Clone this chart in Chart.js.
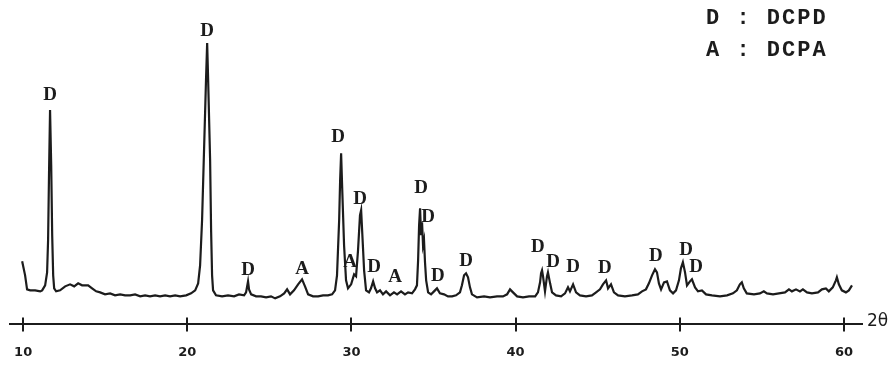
<!DOCTYPE html>
<html>
<head>
<meta charset="utf-8">
<script src="https://cdn.jsdelivr.net/npm/chart.js@4"></script>
<style>
  html, body { margin: 0; padding: 0; background: #fff; }
  #wrap { width: 894px; height: 365px; position: relative; }
</style>
</head>
<body>
<div id="wrap"><canvas id="xrd"></canvas></div>
<script>
// 2-theta (deg) and intensity (arb. units)
const twoTheta = [
  9.94, 10.12, 10.24, 10.43, 10.73, 11.04, 11.16, 11.34, 11.46, 11.52, 11.58, 11.64, 11.71, 11.77, 11.83, 11.89,
  12.01, 12.25, 12.56, 12.86, 13.11, 13.35, 13.59, 13.96, 14.20, 14.45, 14.69, 14.99, 15.30, 15.60, 15.91, 16.21,
  16.52, 16.82, 17.13, 17.43, 17.73, 18.04, 18.34, 18.65, 18.95, 19.26, 19.56, 19.93, 20.23, 20.48, 20.66, 20.78,
  20.90, 21.02, 21.14, 21.21, 21.27, 21.39, 21.45, 21.51, 21.57, 21.75, 22.12, 22.48, 22.85, 23.15, 23.46, 23.58,
  23.70, 23.76, 23.89, 24.19, 24.49, 24.80, 25.10, 25.35, 25.65, 25.90, 26.08, 26.26, 26.50, 26.75, 26.99, 27.17,
  27.36, 27.66, 27.97, 28.27, 28.57, 28.82, 29.00, 29.12, 29.25, 29.31, 29.37, 29.43, 29.55, 29.67, 29.79, 29.98,
  30.16, 30.28, 30.40, 30.52, 30.59, 30.65, 30.77, 30.89, 31.07, 31.19, 31.32, 31.44, 31.56, 31.74, 31.92, 32.11,
  32.35, 32.59, 32.78, 33.02, 33.26, 33.45, 33.69, 33.87, 33.99, 34.06, 34.12, 34.18, 34.24, 34.30, 34.36, 34.42,
  34.48, 34.55, 34.67, 34.85, 35.03, 35.21, 35.39, 35.64, 35.88, 36.13, 36.37, 36.61, 36.73, 36.86, 36.98, 37.10,
  37.22, 37.34, 37.65, 38.08, 38.44, 38.87, 39.23, 39.48, 39.66, 39.84, 40.09, 40.45, 40.82, 41.19, 41.36, 41.49,
  41.55, 41.61, 41.67, 41.79, 41.91, 41.97, 42.10, 42.22, 42.46, 42.77, 43.01, 43.19, 43.31, 43.50, 43.68, 43.92,
  44.29, 44.65, 44.90, 45.14, 45.32, 45.51, 45.63, 45.81, 45.99, 46.24, 46.66, 47.09, 47.45, 47.70, 47.94, 48.12,
  48.31, 48.49, 48.61, 48.73, 48.86, 49.04, 49.22, 49.40, 49.59, 49.77, 49.95, 50.07, 50.19, 50.32, 50.44, 50.62,
  50.74, 50.93, 51.11, 51.35, 51.60, 51.96, 52.45, 52.88, 53.24, 53.48, 53.66, 53.78, 53.90, 54.08, 54.52, 54.88,
  55.12, 55.31, 55.68, 56.04, 56.41, 56.65, 56.83, 57.08, 57.32, 57.50, 57.75, 58.05, 58.42, 58.66, 58.90, 59.08,
  59.32, 59.51, 59.57, 59.69, 59.87, 60.12, 60.30, 60.49
];
const intensity = [
  63, 49, 35, 34, 34, 33, 34, 39, 52, 84, 154, 214, 159, 89, 49, 36,
  33, 34, 38, 40, 38, 41, 39, 39, 36, 33, 32, 30, 31, 29, 30, 29,
  29, 30, 28, 29, 28, 29, 28, 29, 28, 29, 28, 29, 31, 34, 41, 59,
  104, 174, 244, 281, 244, 164, 94, 49, 34, 29, 28, 29, 28, 30, 29, 32,
  43, 35, 30, 28, 28, 27, 28, 26, 28, 31, 35, 30, 34, 40, 45, 38,
  30, 28, 28, 29, 29, 30, 34, 49, 104, 144, 171, 139, 79, 44, 36, 40,
  50, 48, 74, 109, 114, 94, 54, 34, 32, 36, 43, 36, 32, 34, 30, 33,
  29, 32, 30, 33, 30, 32, 31, 35, 39, 64, 99, 116, 89, 102, 79, 84,
  62, 44, 32, 30, 33, 36, 31, 30, 28, 28, 29, 32, 39, 49, 51, 47,
  37, 30, 27, 28, 27, 28, 28, 30, 35, 32, 28, 27, 28, 28, 32, 42,
  51, 54, 48, 33, 48, 52, 41, 32, 29, 28, 31, 37, 33, 40, 32, 29,
  28, 29, 32, 35, 40, 44, 36, 40, 32, 29, 28, 29, 30, 33, 35, 41,
  49, 55, 52, 41, 35, 42, 43, 34, 31, 34, 44, 56, 62, 52, 39, 43,
  45, 37, 33, 34, 30, 29, 28, 29, 31, 34, 40, 42, 36, 31, 30, 31,
  33, 31, 30, 31, 32, 35, 33, 35, 33, 35, 32, 31, 32, 35, 36, 33,
  37, 44, 47, 40, 34, 32, 34, 39
];

// phase marks above the peaks (D = DCPD, A = DCPA)
const markTheta = [11.64, 21.21, 23.70, 26.99, 29.18, 29.92, 30.52, 31.38, 32.66, 34.24, 34.67, 35.27, 36.98, 41.36, 42.28, 43.50, 45.44, 48.55, 50.38, 50.99];
const markLevel = [229, 293, 54, 55, 187, 62, 125, 57, 47, 136, 107, 48, 63, 77, 62, 57, 56, 68, 74, 57];
const markText  = ['D', 'D', 'D', 'A', 'D', 'A', 'D', 'D', 'A', 'D', 'D', 'D', 'D', 'D', 'D', 'D', 'D', 'D', 'D', 'D'];

const xTicks = [10, 20, 30, 40, 50, 60];
const legendKeys = ['D', 'A'];
const legendNames = ['DCPD', 'DCPA'];

const INK = '#1c1c1c';

// upper half of the crossing tick marks + phase labels + legend + axis title
const annotate = {
  id: 'annotate',
  afterDraw(chart) {
    const { ctx, chartArea } = chart;
    const xs = chart.scales.x, ys = chart.scales.y;
    ctx.save();

    ctx.strokeStyle = INK;
    ctx.lineWidth = 2;
    for (const t of xs.ticks) {
      const px = Math.round(xs.getPixelForValue(t.value));
      ctx.beginPath();
      ctx.moveTo(px, chartArea.bottom - 7);
      ctx.lineTo(px, chartArea.bottom);
      ctx.stroke();
    }

    ctx.fillStyle = INK;
    ctx.textAlign = 'center';
    ctx.textBaseline = 'middle';
    ctx.font = 'bold 19px "Liberation Serif", serif';
    markText.forEach((s, i) => {
      ctx.fillText(s, xs.getPixelForValue(markTheta[i]), ys.getPixelForValue(markLevel[i]));
    });

    ctx.textAlign = 'left';
    ctx.font = '17px "DejaVu Sans", sans-serif';
    ctx.fillText('2θ', chartArea.right + 5, chartArea.bottom - 3);

    ctx.font = 'bold 22px "Liberation Mono", monospace';
    ctx.letterSpacing = '2px';
    legendKeys.forEach((k, i) => {
      ctx.fillText(`${k} : ${legendNames[i]}`, 706, 18 + i * 32);
    });
    ctx.restore();
  }
};

new Chart(document.getElementById('xrd'), {
  type: 'line',
  data: {
    datasets: [{
      data: twoTheta.map((t, i) => ({ x: t, y: intensity[i] })),
      borderColor: INK,
      borderWidth: 2.2,
      pointRadius: 0,
      tension: 0,
      fill: false
    }]
  },
  options: {
    responsive: true,
    maintainAspectRatio: false,
    animation: false,
    events: [],
    layout: { padding: { left: 10, right: 32, top: 4, bottom: -8 } },
    plugins: { legend: { display: false }, tooltip: { enabled: false } },
    scales: {
      x: {
        type: 'linear',
        min: 9.2,
        max: 61.1,
        afterBuildTicks: s => { s.ticks = xTicks.map(v => ({ value: v })); },
        border: { display: true, color: INK, width: 2 },
        grid: { display: true, drawOnChartArea: false, drawTicks: true, tickLength: 7, color: INK, lineWidth: 2 },
        ticks: {
          color: INK,
          padding: 13,
          maxRotation: 0,
          font: { family: '"DejaVu Sans", sans-serif', size: 13, weight: 'bold' }
        }
      },
      y: {
        display: false,
        min: 0,
        max: 320
      }
    }
  },
  plugins: [annotate]
});
</script>
</body>
</html>
